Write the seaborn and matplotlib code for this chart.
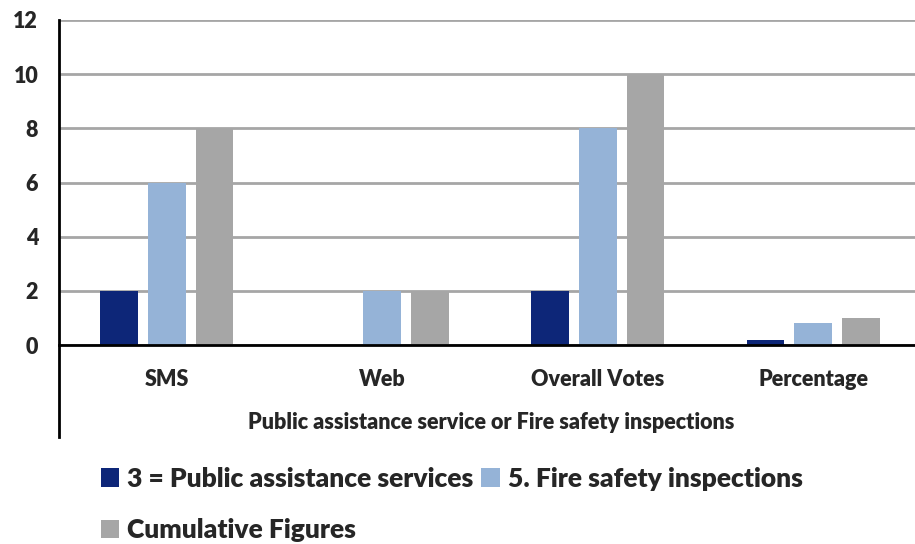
import matplotlib
matplotlib.use("Agg")
import matplotlib.pyplot as plt
import numpy as np
import pandas as pd
import seaborn as sns

# chart values
categories = ["SMS", "Web", "Overall Votes", "Percentage"]
public_assistance = [2, 0, 2, 0.2]
fire_safety = [6, 2, 8, 0.8]
cumulative = [8, 2, 10, 1.0]
series_names = ["3 = Public assistance services", "5. Fire safety inspections", "Cumulative Figures"]
y_ticks = [0, 2, 4, 6, 8, 10, 12]

colors = ["#0d2678", "#95b3d7", "#a6a6a6"]

df = pd.DataFrame({
    "category": categories * 3,
    "series": np.repeat(series_names, len(categories)),
    "value": public_assistance + fire_safety + cumulative,
})

sns.set_style("white")
plt.rcParams["font.family"] = ["Lato", "DejaVu Sans"]
plt.rcParams["font.weight"] = "heavy"

fig = plt.figure(figsize=(9.15, 5.44), dpi=100)
# axes runs a bit past the right edge, like the original
ax = fig.add_axes([59 / 915, 1 - 345 / 544, 862 / 915, 325 / 544])

sns.barplot(data=df, x="category", y="value", hue="series", order=categories,
            hue_order=series_names, palette=colors, width=0.664, gap=0.21,
            saturation=1, linewidth=0, ax=ax)

ax.set_ylim(0, 12)
ax.set_xlim(-0.5, 3.5)
ax.set_yticks(y_ticks)
ax.yaxis.grid(True, color="#a6a6a6", linewidth=2)
ax.set_axisbelow(True)

for side in ["top", "right"]:
    ax.spines[side].set_visible(False)
ax.spines["bottom"].set_linewidth(2)
ax.spines["bottom"].set_color("black")
ax.spines["left"].set_linewidth(2)
ax.spines["left"].set_color("black")
ax.spines["left"].set_bounds(-3.4, 12)

ax.tick_params(axis="y", direction="inout", length=14, width=2, labelsize=15.5, pad=8)
ax.tick_params(axis="x", length=0, labelsize=15.5, pad=17)
for lbl in ax.get_xticklabels() + ax.get_yticklabels():
    lbl.set_fontweight("heavy")

ax.set_ylabel("")
ax.set_xlabel("Public assistance service or Fire safety inspections",
              fontsize=15.5, fontweight="heavy")
ax.xaxis.set_label_coords((491 - 59) / 862, -(412 - 345) / 325)

handles, labels = ax.get_legend_handles_labels()
order = [0, 2, 1]
ax.legend([handles[i] for i in order], [labels[i] for i in order],
          ncol=2, loc="upper left", bbox_to_anchor=(90 / 915, 1 - 456 / 544),
          bbox_transform=fig.transFigure, frameon=False,
          prop={"size": 19, "weight": "heavy"}, handlelength=0.7, handleheight=0.7,
          handletextpad=0.3, columnspacing=0.3, labelspacing=1.05, borderaxespad=0)

fig.savefig("out.png", dpi=100)
